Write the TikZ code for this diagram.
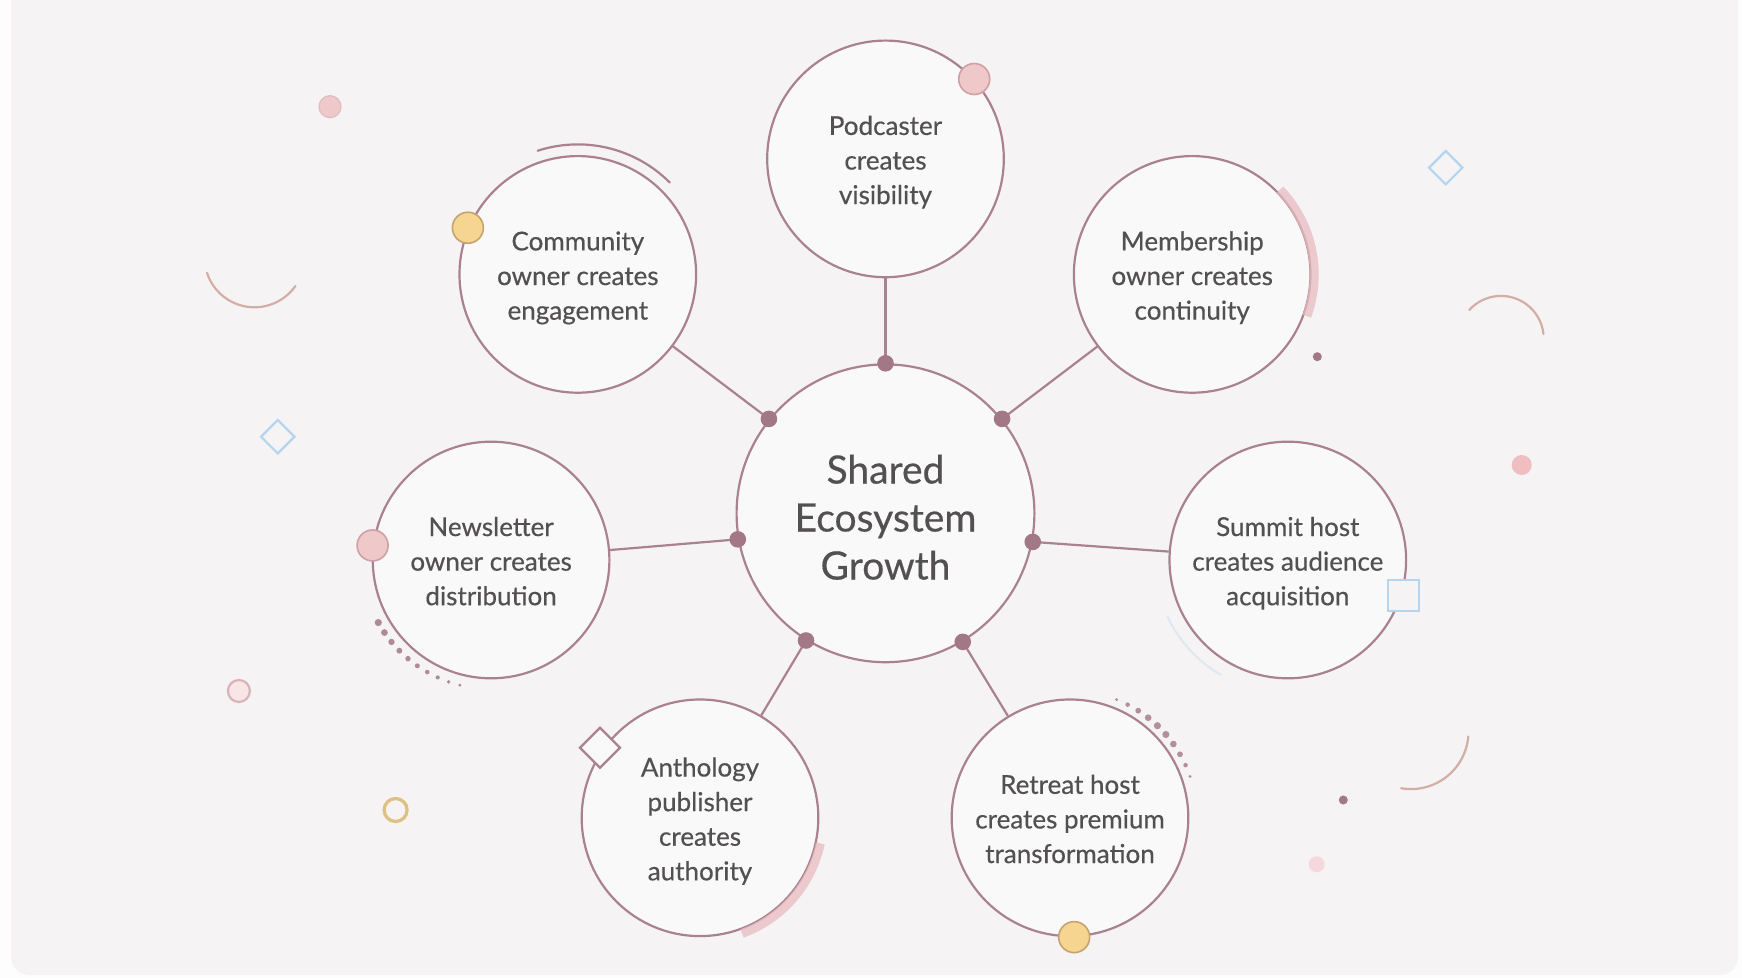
\documentclass[tikz,border=0pt]{standalone}
\usepackage{fontspec}
\setmainfont{Lato}
\newfontfamily\rolefont{Lato}[FakeBold=0.45]
\usetikzlibrary{calc}

\definecolor{paper}{HTML}{FDFDFD}
\definecolor{card}{HTML}{F5F3F3}
\definecolor{disc}{HTML}{FAF9F9}
\definecolor{ring}{HTML}{A9828E}
\definecolor{knotcol}{HTML}{A27786}
\definecolor{ink}{HTML}{525050}
\definecolor{blush}{HTML}{EFC8CA}
\definecolor{blushline}{HTML}{CFA0A5}
\definecolor{honey}{HTML}{F6D591}
\definecolor{honeyline}{HTML}{C6A271}
\definecolor{sky}{HTML}{B5D5EE}
\definecolor{tan}{HTML}{D3AEA6}
\definecolor{band}{HTML}{E8BCC0}

\tikzset{
  sat/.style={circle, draw=ring, line width=1.1pt, fill=disc,
    minimum size=118.3pt, inner sep=0pt},
  hubnode/.style={circle, draw=ring, line width=1.1pt, fill=disc,
    minimum size=148.9pt, inner sep=0pt},
  roletext/.style={align=center, text=ink, inner sep=0pt, yshift=-1.85pt,
    font=\rolefont\fontsize{13}{17.3}\selectfont},
  hubtext/.style={align=center, text=ink, inner sep=0pt, yshift=-2pt,
    font=\rolefont\fontsize{19.5}{24}\selectfont},
  link/.style={draw=ring, line width=1.1pt},
  knot/.style={fill=knotcol},
  thinarc/.style={draw=tan, line width=1.1pt, line cap=round},
  bandarc/.style={draw=band, line width=4.5pt, opacity=0.75},
  pinkbead/.style={circle, fill=blush, draw=blushline, line width=0.8pt, minimum size=15.5pt, inner sep=0pt},
  honeybead/.style={circle, fill=honey, draw=honeyline, line width=0.8pt, minimum size=15.5pt, inner sep=0pt},
  skymark/.style={draw=sky, line width=1.1pt},
}

\begin{document}
\begin{tikzpicture}[x=0.5pt,y=-0.5pt]
\useasboundingbox (0,0) rectangle (1742,978);
\fill[paper] (0,0) rectangle (1742,978);
\fill[card, rounded corners=9pt] (11,-20) rectangle (1738,975);

% background ornaments
\fill[blush, draw=blushline!70, line width=0.6pt] (330,106.7) circle (11);
\draw[thinarc] (254.5,257.3) ++(-198:50) arc[start angle=-198, end angle=-325, radius=50];
\draw[skymark] (277.8,420) -- (294.5,436.7) -- (277.8,453.4) -- (261.1,436.7) -- cycle;
\draw[draw=blushline!80, fill=blush!45, line width=1.1pt] (238.9,691) circle (11);
\draw[draw=honey!90!black, line width=1.6pt] (395.6,810) circle (11.5);
\draw[skymark] (1445.7,151) -- (1462.4,167.7) -- (1445.7,184.4) -- (1429,167.7) -- cycle;
\draw[thinarc] (1501,338.6) ++(-138:42.7) arc[start angle=-138, end angle=-6, radius=42.7];
\fill[knotcol] (1317.3,356.7) circle (4.5);
\fill[blush!95!red] (1521.7,465) circle (10);
\draw[thinarc] (1411,731.6) ++(-260:57.5) arc[start angle=-260, end angle=-355, radius=57.5];
\fill[knotcol] (1343.3,800) circle (4.5);
\fill[blush!70] (1316.7,864.3) circle (8);

% central hub and the seven roles
\node[hubnode] (hub) at (885.5,513.3) {};
\node[sat] (pod) at (885.5,158.9) {};
\node[sat] (comm) at (577.8,274.4) {};
\node[sat] (memb) at (1192.2,274.4) {};
\node[sat] (news) at (491.1,560) {};
\node[sat] (summ) at (1287.8,560) {};
\node[sat] (anth) at (700,817.8) {};
\node[sat] (retr) at (1070,817.8) {};

\node[hubtext] at (hub.center) {Shared\\Ecosystem\\Growth};
\node[roletext] at (pod.center) {\strut Podcaster\\creates\\visibility\strut};
\node[roletext] at (comm.center) {\strut Community\\owner creates\\engagement\strut};
\node[roletext] at (memb.center) {\strut Membership\\owner creates\\continuity\strut};
\node[roletext] at (news.center) {\strut Newsletter\\owner creates\\distribution\strut};
\node[roletext] at (summ.center) {\strut Summit host\\creates audience\\acquisition\strut};
\node[roletext] at (anth.center) {\strut Anthology\\publisher\\creates\\authority\strut};
\node[roletext] at (retr.center) {\strut Retreat host\\creates premium\\transformation\strut};

% joints on the hub rim
\coordinate (jp) at (hub.90);
\coordinate (jc) at (hub.141);
\coordinate (jm) at (hub.39);
\coordinate (jn) at (hub.190.7);
\coordinate (js) at (hub.349.3);
\coordinate (ja) at (hub.238.5);
\coordinate (jr) at (hub.301.5);

\draw[link] (jp) -- (pod);
\draw[link] (jc) -- (comm);
\draw[link] (jm) -- (memb);
\draw[link] (jn) -- (news);
\draw[link] (js) -- (summ);
\draw[link] (ja) -- (anth);
\draw[link] (jr) -- (retr);
\foreach \j in {jp,jc,jm,jn,js,ja,jr} \fill[knot] (\j) circle (8.3);

% ornaments hugging the role circles
\draw[draw=ring, line width=1.1pt, line cap=round] (comm) ++(-45:130) arc[start angle=-45, end angle=-108, radius=130];
\draw[bandarc] (memb) ++(20:122) arc[start angle=20, end angle=-44, radius=122];
\draw[bandarc] (anth) ++(70:123) arc[start angle=70, end angle=12, radius=123];
\draw[draw=sky, line width=1pt, opacity=0.35] (summ) ++(-205:133) arc[start angle=-205, end angle=-240, radius=133];
\foreach \k in {0,...,9} {
  \pgfmathsetmacro{\ang}{209+\k*47/9}
  \pgfmathsetmacro{\rad}{3.6-\k*0.22}
  \fill[knotcol, opacity=0.85] (news) ++(-\ang:129) circle (\rad);
}
\foreach \k in {0,...,9} {
  \pgfmathsetmacro{\ang}{68.5-\k*49.5/9}
  \pgfmathsetmacro{\rad}{1.6+2.0*sin(\k*20)}
  \fill[knotcol, opacity=0.8] (retr) ++(-\ang:127) circle (\rad);
}

\node[pinkbead] at (pod.42.4) {};
\node[honeybead] at (comm.157.8) {};
\node[pinkbead] at (news.173) {};
\node[honeybead] at (retr.272.7) {};
\draw[draw=ring, fill=disc, line width=1.1pt] (600,727.7) -- (620,747.7) -- (600,767.7) -- (580,747.7) -- cycle;
\draw[skymark, fill=card] (1387.7,580) rectangle (1418.7,611);
\end{tikzpicture}
\end{document}
